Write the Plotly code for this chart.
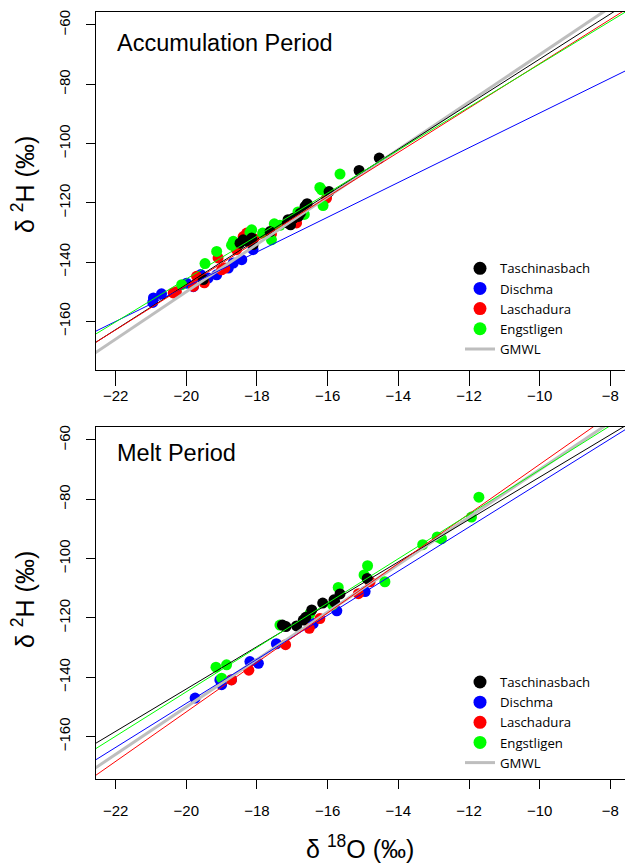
import plotly.graph_objects as go

# ---------------- data ----------------
names = ["Taschinasbach", "Dischma", "Laschadura", "Engstligen"]
colors = ["#000000", "#0000FF", "#FF0000", "#00FF00"]

# Accumulation period (delta 18O, delta 2H)
acc_tas_x = [-14.54, -15.11, -15.96, -16.58, -16.64, -16.77, -16.83, -16.97, -17.12, -17.05, -17.14,
             -17.63, -18.15, -18.25, -18.39, -18.11, -18.48, -19.52]
acc_tas_y = [-104.9, -109.1, -116.2, -120.3, -121.2, -123.5, -124.6, -125.2, -125.7, -127.4, -126.8,
             -129.7, -131.9, -133.0, -132.5, -134.1, -133.6, -145.9]
acc_dis_x = [-20.93, -20.70, -20.95, -19.99, -19.80, -19.59, -19.38, -19.14, -18.81, -18.67, -18.43, -18.11]
acc_dis_y = [-152.1, -150.7, -153.6, -147.1, -148.3, -144.2, -145.4, -144.3, -142.0, -140.3, -139.2, -135.8]
acc_las_x = [-20.37, -20.28, -19.80, -19.49, -19.71, -19.10, -18.91, -19.00, -18.58, -18.39, -18.29,
             -18.09, -17.59, -16.88, -16.03]
acc_las_y = [-150.4, -150.0, -148.2, -147.0, -144.8, -138.6, -142.0, -142.6, -135.8, -131.4, -130.2,
             -132.0, -130.5, -126.8, -118.4]
acc_eng_x = [-15.65, -16.17, -16.22, -16.13, -16.66, -16.84, -17.35, -17.51, -17.59, -17.84, -18.15,
             -18.67, -18.72, -19.14, -19.47, -20.13, -18.20]
acc_eng_y = [-110.3, -115.6, -114.8, -120.9, -123.9, -123.1, -127.6, -127.1, -132.5, -130.2, -129.1,
             -133.0, -134.3, -136.4, -140.5, -147.6, -130.0]

# Melt period
mel_tas_x = [-14.88, -15.65, -15.82, -15.80, -16.14, -16.45, -16.69, -16.62, -16.88, -17.18, -17.28]
mel_tas_y = [-106.7, -111.9, -113.9, -114.7, -115.0, -117.3, -120.7, -119.8, -122.7, -122.9, -122.4]
mel_dis_x = [-14.94, -15.74, -16.41, -17.45, -17.96, -18.20, -18.72, -19.05, -19.75, -19.00]
mel_dis_y = [-111.1, -117.6, -121.9, -128.7, -135.3, -134.7, -140.8, -140.9, -147.0, -142.5]
mel_las_x = [-14.80, -15.13, -16.22, -16.52, -17.19, -18.23, -18.72]
mel_las_y = [-107.8, -111.8, -120.2, -123.5, -129.0, -137.6, -140.9]
mel_eng_x = [-11.72, -11.93, -12.78, -12.90, -13.31, -14.38, -14.87, -14.97, -15.70, -15.86, -16.50,
             -17.35, -18.86, -19.16, -19.00]
mel_eng_y = [-79.3, -86.0, -93.3, -92.7, -95.3, -107.8, -102.4, -105.5, -109.7, -115.6, -118.5,
             -122.4, -135.8, -136.6, -140.3]

# Regression lines (slope, intercept) per catchment, order as names
acc_slopes = [7.608, 5.86, 7.486, 7.249]
acc_intercepts = [4.58, -31.1, 1.82, -0.72]
mel_slopes = [7.144, 7.43, 8.347, 7.48]
mel_intercepts = [-1.08, -0.2, 15.26, 4.69]
gmwl_slope, gmwl_intercept = 8.0, 10.0

line_x = [-23.0, -7.0]
x_ticks = [-22, -20, -18, -16, -14, -12, -10, -8]
y_ticks = [-160, -140, -120, -100, -80, -60]

panels = [
    dict(title="Accumulation Period",
         pts=[(acc_tas_x, acc_tas_y), (acc_dis_x, acc_dis_y), (acc_las_x, acc_las_y), (acc_eng_x, acc_eng_y)],
         slopes=acc_slopes, intercepts=acc_intercepts),
    dict(title="Melt Period",
         pts=[(mel_tas_x, mel_tas_y), (mel_dis_x, mel_dis_y), (mel_las_x, mel_las_y), (mel_eng_x, mel_eng_y)],
         slopes=mel_slopes, intercepts=mel_intercepts),
]

W, H = 625, 863
fig = go.Figure()

draw_order = [1, 2, 3, 0]
for p, panel in enumerate(panels):
    xa = "x" if p == 0 else "x2"
    ya = "y" if p == 0 else "y2"
    lg = "legend" if p == 0 else "legend2"
    for i in draw_order:
        xs, ys = panel["pts"][i]
        fig.add_trace(go.Scatter(x=xs, y=ys, mode="markers", name=names[i],
                                 marker=dict(color=colors[i], size=11, line=dict(width=0)),
                                 xaxis=xa, yaxis=ya, showlegend=False))
    fig.add_trace(go.Scatter(x=line_x, y=[gmwl_intercept + gmwl_slope * v for v in line_x],
                             mode="lines", name="GMWL", line=dict(color="#BEBEBE", width=3),
                             xaxis=xa, yaxis=ya, legend=lg, showlegend=True, legendrank=10))
    for i in range(4):
        s, b = panel["slopes"][i], panel["intercepts"][i]
        fig.add_trace(go.Scatter(x=line_x, y=[b + s * v for v in line_x], mode="lines",
                                 line=dict(color=colors[i], width=1), showlegend=False,
                                 xaxis=xa, yaxis=ya, hoverinfo="skip"))
    for i in range(4):
        fig.add_trace(go.Scatter(x=[None], y=[None], mode="markers", name=names[i],
                                 marker=dict(color=colors[i], size=13),
                                 xaxis=xa, yaxis=ya, legend=lg, showlegend=True, legendrank=i + 1))

xdom = [95.6 / W, 1.0]
top_dom = [1 - 369.7 / H, 1 - 11.7 / H]
bot_dom = [1 - 779.0 / H, 1 - 426.7 / H]

tickfont = dict(family="Liberation Sans, Arial, sans-serif", size=15, color="black")
common_x = dict(range=[-22.566, -7.586], tickvals=x_ticks, ticks="outside", tickcolor="black",
                tickwidth=1, showline=True, linecolor="black", linewidth=1, mirror=True,
                showgrid=False, zeroline=False, tickfont=tickfont, domain=xdom, automargin=False)
common_y = dict(tickvals=y_ticks, ticks="outside", ticklen=9, tickcolor="black", tickwidth=1,
                showline=True, linecolor="black", linewidth=1, mirror=False,
                showgrid=False, zeroline=False, tickfont=tickfont, tickangle=-90,
                ticklabelstandoff=10, automargin=False)

legfont = dict(family="Open Sans, sans-serif", size=13.2, color="black")
fig.update_layout(
    width=W, height=H, margin=dict(l=0, r=0, t=0, b=0, autoexpand=False),
    paper_bgcolor="white", plot_bgcolor="white",
    xaxis=dict(common_x, anchor="y", ticklen=15, ticklabelstandoff=-3),
    yaxis=dict(common_y, anchor="x", domain=top_dom, range=[-176.3, -55.52]),
    xaxis2=dict(common_x, anchor="y2", ticklen=9, ticklabelstandoff=9),
    yaxis2=dict(common_y, anchor="x2", domain=bot_dom, range=[-174.3, -55.52]),
    legend=dict(x=460 / W, y=1 - 253.2 / H, xanchor="left", yanchor="top",
                bgcolor="rgba(0,0,0,0)", borderwidth=0, font=legfont),
    legend2=dict(x=460 / W, y=1 - 666.9 / H, xanchor="left", yanchor="top",
                 bgcolor="rgba(0,0,0,0)", borderwidth=0, font=legfont),
    showlegend=True,
)

titlefont = dict(family="Liberation Sans, Arial, sans-serif", size=23.5, color="black")
axfont = dict(family="Liberation Sans, Arial, sans-serif", size=25, color="black")
fig.add_annotation(text="Accumulation Period", x=115 / W, y=1 - 43.2 / H, xref="paper", yref="paper",
                   xanchor="left", yanchor="middle", showarrow=False, font=titlefont)
fig.add_annotation(text="Melt Period", x=115 / W, y=1 - 453.2 / H, xref="paper", yref="paper",
                   xanchor="left", yanchor="middle", showarrow=False, font=titlefont)
fig.add_annotation(text="δ <sup>2</sup>H (‰)", x=23 / W, y=1 - 185 / H, xref="paper", yref="paper",
                   xanchor="center", yanchor="middle", textangle=-90, showarrow=False, font=axfont)
fig.add_annotation(text="δ <sup>2</sup>H (‰)", x=23 / W, y=1 - 600 / H, xref="paper", yref="paper",
                   xanchor="center", yanchor="middle", textangle=-90, showarrow=False, font=axfont)
fig.add_annotation(text="δ <sup>18</sup>O (‰)", x=360 / W, y=1 - 847 / H, xref="paper", yref="paper",
                   xanchor="center", yanchor="middle", showarrow=False, font=axfont)

fig.write_html("out.html", config={"displayModeBar": False},
               post_script="document.body.style.margin='0px';document.body.style.overflow='hidden';")
